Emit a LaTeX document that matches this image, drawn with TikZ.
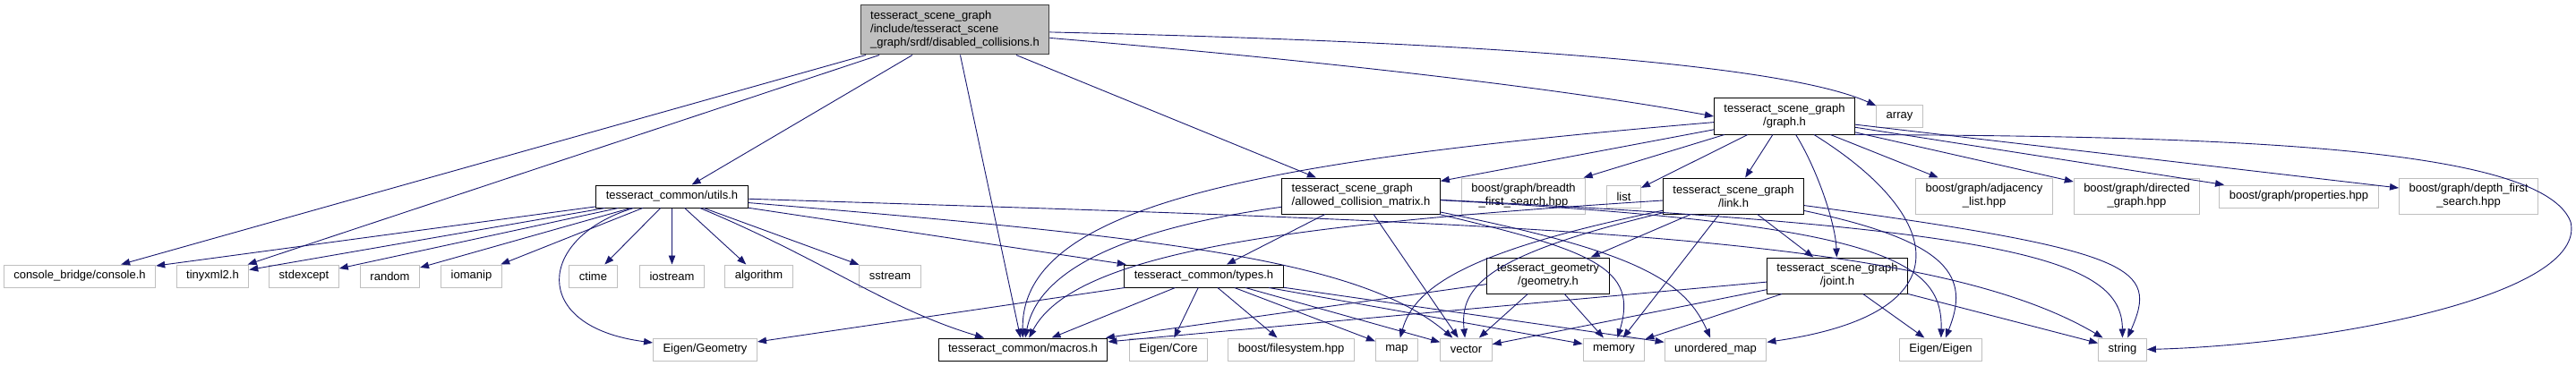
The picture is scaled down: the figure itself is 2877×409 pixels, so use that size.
\documentclass[tikz,border=0pt]{standalone}
\usepackage{fontspec}
\setmainfont{Liberation Sans}
\usepackage{tikz}
\usetikzlibrary{arrows.meta}
\definecolor{edgeblue}{rgb}{0.10,0.10,0.44}
\definecolor{boxgray}{rgb}{0.75,0.75,0.75}
\definecolor{topgray}{rgb}{0.25,0.25,0.25}
\tikzset{
  sysfile/.style={
    draw=boxgray,
    line width=1pt,
    fill=white,
    align=center,
    inner xsep=11pt,
    inner ysep=2pt,
    minimum height=25pt,
    font=\fontsize{13}{15}\selectfont
  },
  projfile/.style={
    sysfile,
    draw=black
  },
  topfile/.style={
    projfile,
    draw=topgray,
    fill=boxgray,
    align=left,
    minimum height=55pt
  },
  twoline/.style={minimum height=40pt},
  dep/.style={
    -{Triangle[length=10pt,width=7.5pt]},
    line width=0.9pt,
    edgeblue
  }
}

\begin{document}
\begin{tikzpicture}[x=1pt,y=-1pt]
\useasboundingbox (0,0) rectangle (2877,409);
% top row
\node[topfile] (main) at (1066.5,33.5) {tesseract\_scene\_graph\\/include/tesseract\_scene\\\_graph/srdf/disabled\_collisions.h};
\node[projfile, twoline] (graph) at (1993,130) {tesseract\_scene\_graph\\/graph.h};
\node[sysfile] (array) at (2121.5,130) {array};
% second row
\node[projfile] (utils) at (750.5,219.5) {tesseract\_common/utils.h};
\node[projfile, twoline, align=left] (acm) at (1520,219) {tesseract\_scene\_graph\\/allowed\_collision\_matrix.h};
\node[sysfile, twoline] (breadth) at (1701.5,219) {boost/graph/breadth\\\_first\_search.hpp};
\node[sysfile] (list) at (1813.5,219.5) {list};
\node[projfile, twoline] (link) at (1936,219) {tesseract\_scene\_graph\\/link.h};
\node[sysfile, twoline] (adjacency) at (2216,219) {boost/graph/adjacency\\\_list.hpp};
\node[sysfile, twoline] (directed) at (2386.5,219) {boost/graph/directed\\\_graph.hpp};
\node[sysfile] (properties) at (2567.5,219.5) {boost/graph/properties.hpp};
\node[sysfile, twoline] (depth) at (2757,219) {boost/graph/depth\_first\\\_search.hpp};
% third row
\node[sysfile] (console) at (89,308.5) {console\_bridge/console.h};
\node[sysfile] (tinyxml) at (237.5,308.5) {tinyxml2.h};
\node[sysfile] (stdexcept) at (339.5,308.5) {stdexcept};
\node[sysfile] (random) at (435.5,308.5) {random};
\node[sysfile] (iomanip) at (526.5,308.5) {iomanip};
\node[sysfile] (ctime) at (662.5,308.5) {ctime};
\node[sysfile] (iostream) at (750.5,308.5) {iostream};
\node[sysfile] (algorithm) at (847.5,308.5) {algorithm};
\node[sysfile] (sstream) at (994,308.5) {sstream};
\node[projfile] (types) at (1344.5,308.5) {tesseract\_common/types.h};
\node[projfile, twoline] (geometry) at (1729,308) {tesseract\_geometry\\/geometry.h};
\node[projfile, twoline] (joint) at (2052,308) {tesseract\_scene\_graph\\/joint.h};
% bottom row
\node[sysfile] (eigengeom) at (787.5,390.5) {Eigen/Geometry};
\node[projfile] (macros) at (1142.5,390.5) {tesseract\_common/macros.h};
\node[sysfile] (eigencore) at (1305,390.5) {Eigen/Core};
\node[sysfile] (filesystem) at (1442,390.5) {boost/filesystem.hpp};
\node[sysfile] (map) at (1560,390.5) {map};
\node[sysfile] (vector) at (1637.5,390.5) {vector};
\node[sysfile] (memory) at (1802.5,390.5) {memory};
\node[sysfile] (unordmap) at (1916,390.5) {unordered\_map};
\node[sysfile] (eigen) at (2167.5,390.5) {Eigen/Eigen};
\node[sysfile] (string) at (2370.5,390.5) {string};

% disabled_collisions.h
\draw[dep] (main) -- (console);
\draw[dep] (main) -- (tinyxml);
\draw[dep] (main) -- (utils);
\draw[dep] (main) -- (macros);
\draw[dep] (main) -- (acm);
\draw[dep] (main) .. controls (1500,70) and (1750,100) .. (graph.west);
\draw[dep] (main) .. controls (1700,48) and (2000,75) .. (array);
% utils.h
\foreach \dst in {console,tinyxml,stdexcept,random,iomanip,ctime,iostream,algorithm,sstream,types}
  \draw[dep] (utils) -- (\dst);
\draw[dep] (utils) .. controls (600,265) and (590,365) .. (eigengeom);
\draw[dep] (utils) .. controls (920,290) and (990,345) .. (macros);
\draw[dep] (utils) .. controls (1300,265) and (1520,290) .. (vector);
\draw[dep] (utils) .. controls (1700,250) and (2150,260) .. (string);
% types.h
\foreach \dst in {eigengeom,macros,eigencore,filesystem,map,vector,memory,unordmap}
  \draw[dep] (types) -- (\dst);
% allowed_collision_matrix.h
\draw[dep] (acm) .. controls (1260,255) and (1160,300) .. (macros);
\draw[dep] (acm) -- (types);
\draw[dep] (acm) -- (vector);
\draw[dep] (acm) .. controls (1780,280) and (1830,300) .. (memory);
\draw[dep] (acm) .. controls (1820,280) and (1880,310) .. (unordmap);
\draw[dep] (acm) .. controls (2100,250) and (2170,290) .. (eigen);
\draw[dep] (acm) .. controls (2250,255) and (2370,290) .. (string);
% graph.h
\foreach \dst in {acm,breadth,list,link,adjacency,directed,properties,depth}
  \draw[dep] (graph) -- (\dst);
\draw[dep] (graph) .. controls (2030,190) and (2050,250) .. (joint);
\draw[dep] (graph) .. controls (1400,180) and (1140,230) .. (macros);
\draw[dep] (graph) .. controls (2170,240) and (2200,350) .. (unordmap);
\draw[dep] (graph.south east) .. controls (2500,152) and (2840,165) .. (2871,248)
  .. controls (2890,330) and (2600,385) .. (string.east);
% link.h
\draw[dep] (link) .. controls (1450,250) and (1200,280) .. (macros);
\draw[dep] (link) .. controls (1640,280) and (1580,320) .. (map);
\draw[dep] (link) .. controls (1660,285) and (1630,320) .. (vector);
\draw[dep] (link) -- (geometry);
\draw[dep] (link) -- (memory);
\draw[dep] (link) -- (joint);
\draw[dep] (link) .. controls (2180,270) and (2200,310) .. (eigen);
\draw[dep] (link) .. controls (2390,280) and (2410,300) .. (string);
% geometry.h
\foreach \dst in {macros,vector,memory}
  \draw[dep] (geometry) -- (\dst);
% joint.h
\foreach \dst in {macros,vector,memory,eigen,string}
  \draw[dep] (joint) -- (\dst);
\end{tikzpicture}
\end{document}
